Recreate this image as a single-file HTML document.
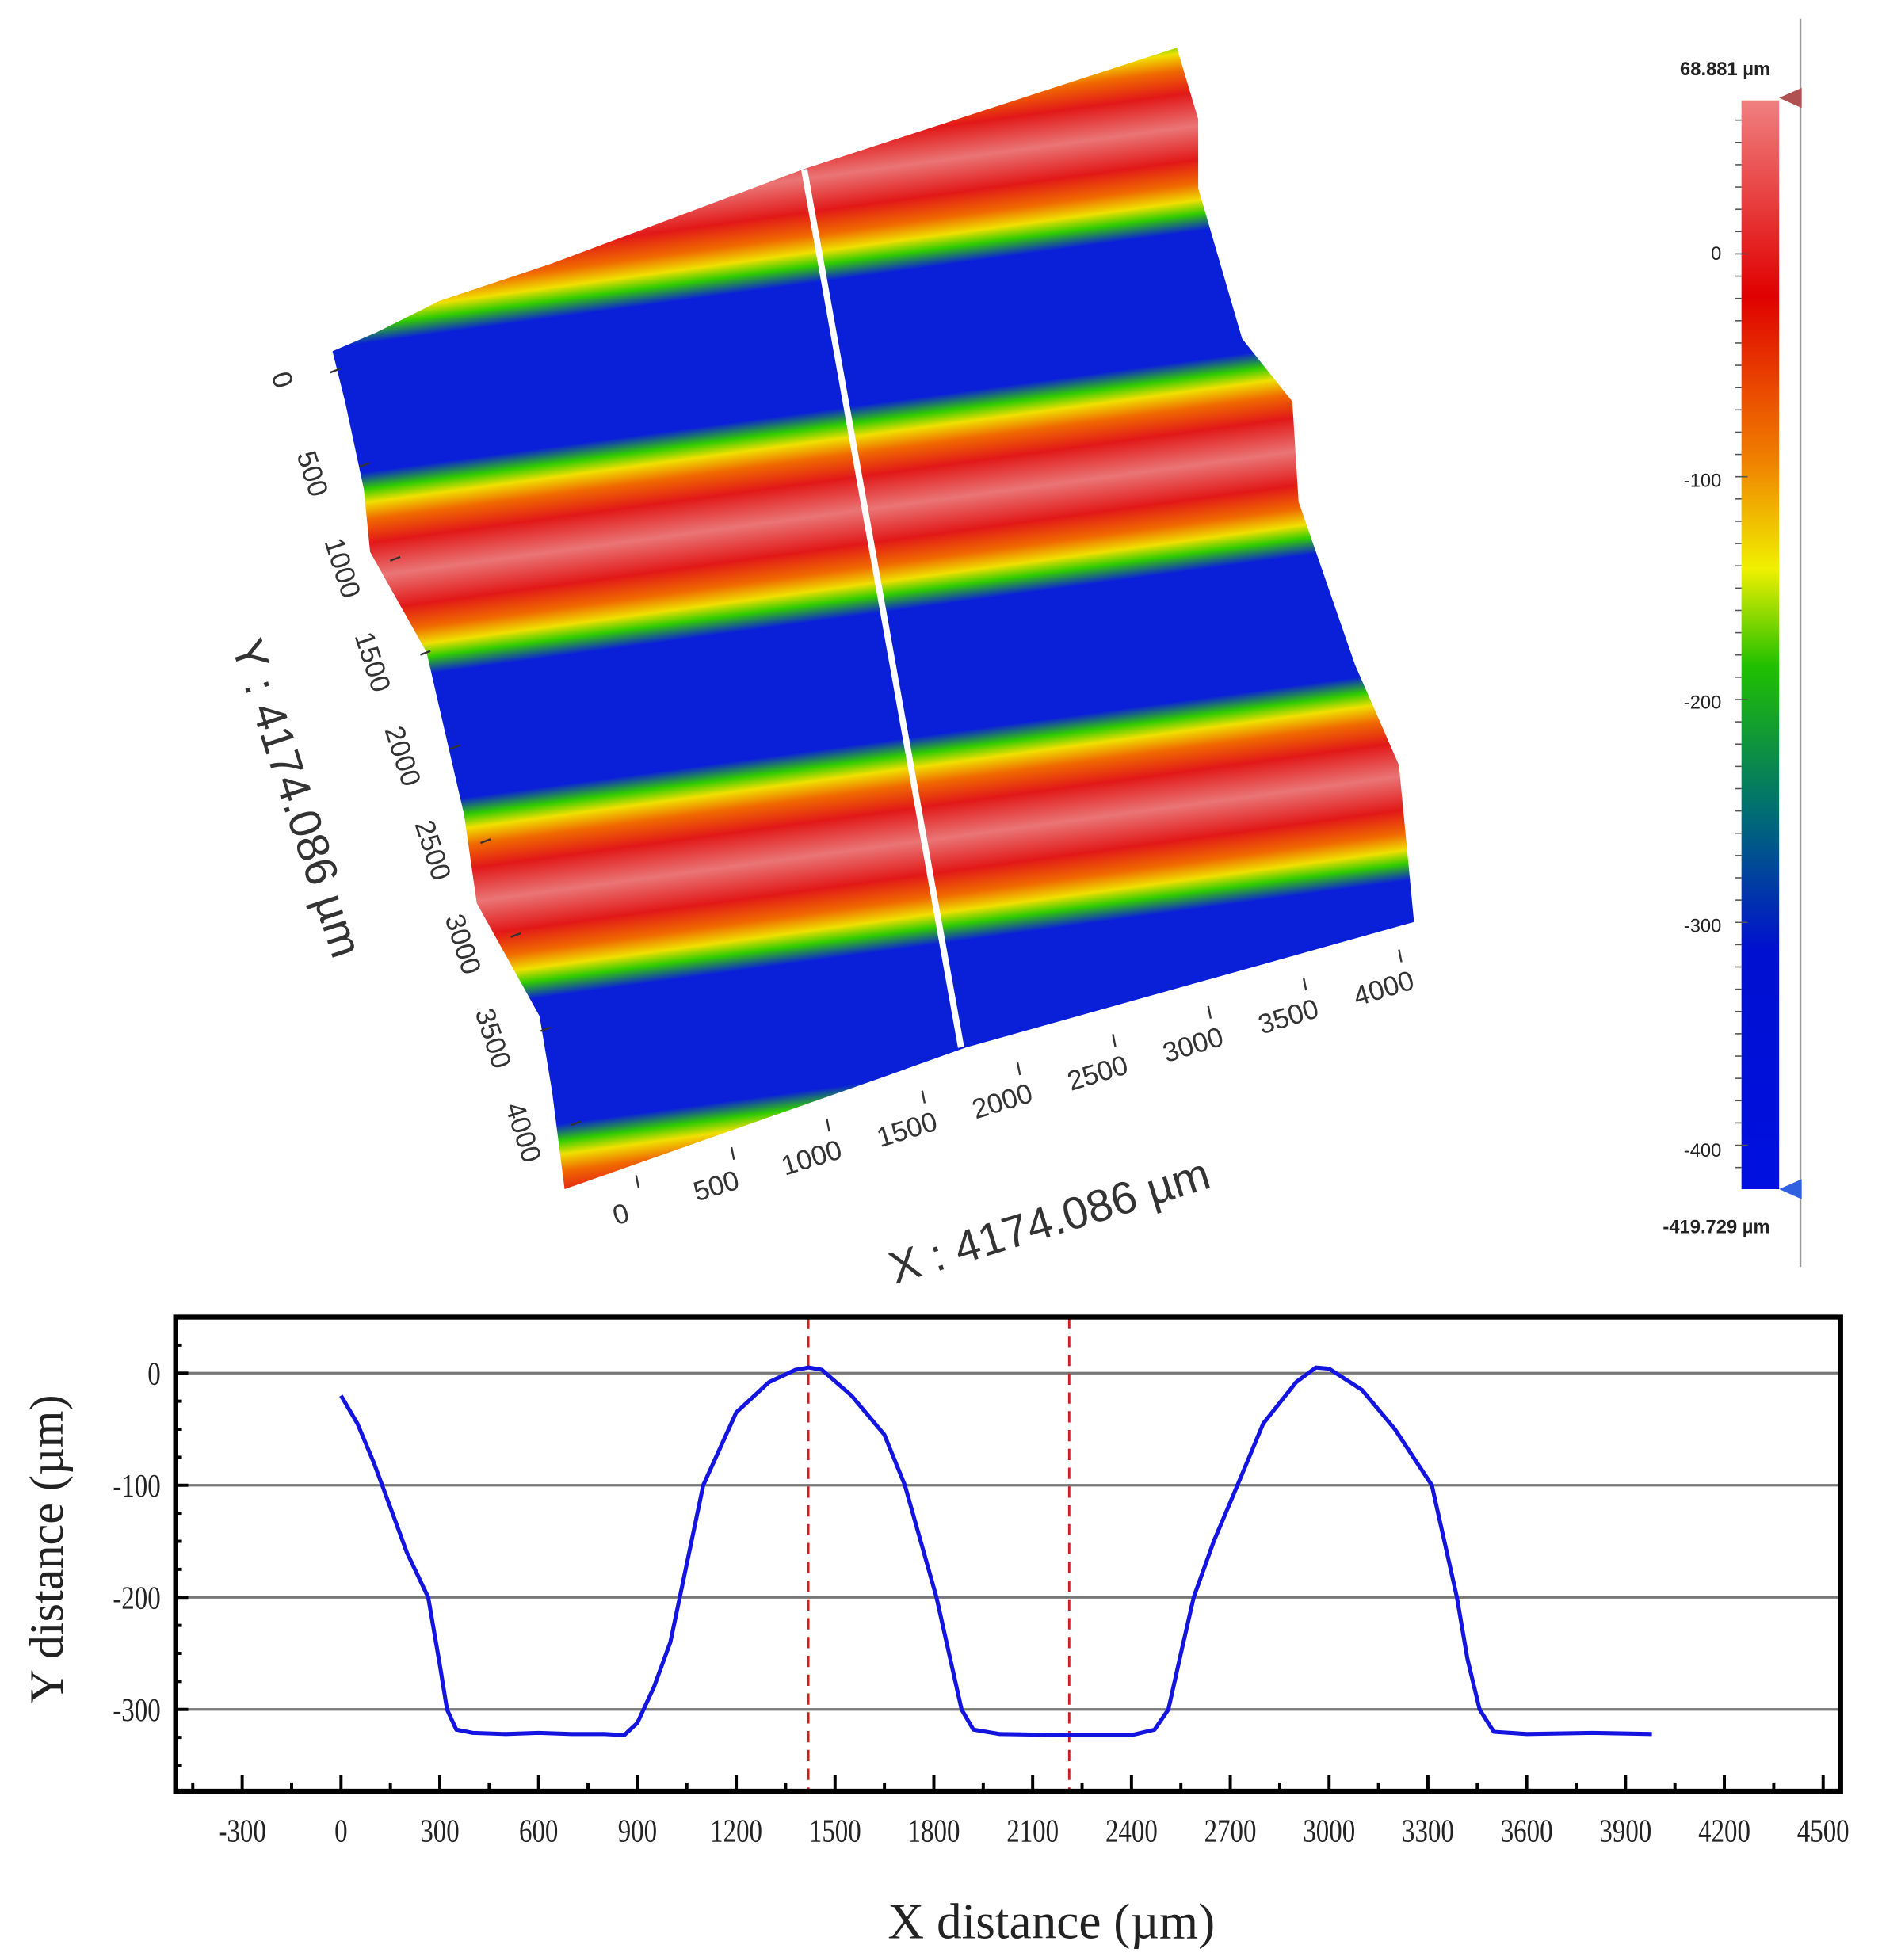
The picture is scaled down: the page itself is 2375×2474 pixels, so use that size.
<!DOCTYPE html>
<html><head><meta charset="utf-8"><style>
html,body{margin:0;padding:0;background:#fff}
svg{display:block}
</style></head><body>
<svg id="root" xmlns="http://www.w3.org/2000/svg" width="2375" height="2474" viewBox="0 0 1500 1562.5">
<defs>
  <linearGradient id="bandGrad" gradientUnits="userSpaceOnUse" x1="0" y1="-125" x2="0" y2="265" spreadMethod="repeat">
    <stop offset="0" stop-color="#ea7575"/>
    <stop offset="0.1" stop-color="#e21818"/>
    <stop offset="0.17" stop-color="#f06a00"/>
    <stop offset="0.22" stop-color="#f0e000"/>
    <stop offset="0.26" stop-color="#30cc00"/>
    <stop offset="0.31" stop-color="#0a20d8"/>
    <stop offset="0.69" stop-color="#0a20d8"/>
    <stop offset="0.74" stop-color="#30cc00"/>
    <stop offset="0.78" stop-color="#f0e000"/>
    <stop offset="0.83" stop-color="#f06a00"/>
    <stop offset="0.9" stop-color="#e21818"/>
    <stop offset="1" stop-color="#ea7575"/>
  </linearGradient>
  <clipPath id="surfClip">
    <polygon points="265,280 300,265 350,240 440,210 640,135 938,38 955,95 955,150 990,270 1030,320 1035,400 1080,530 1115,610 1127,735 770,835 700,860 450,948 440,870 430,810 380,720 370,650 340,520 295,440 290,390 275,320"/>
  </clipPath>
  <linearGradient id="cbarGrad" x1="0" y1="0" x2="0" y2="1">
    <stop offset="0" stop-color="#f08080"/>
    <stop offset="0.18" stop-color="#e00000"/>
    <stop offset="0.33" stop-color="#f08000"/>
    <stop offset="0.43" stop-color="#f0f000"/>
    <stop offset="0.52" stop-color="#20c000"/>
    <stop offset="0.65" stop-color="#007070"/>
    <stop offset="0.78" stop-color="#0010d0"/>
    <stop offset="1" stop-color="#0010e0"/>
  </linearGradient>
</defs>

<g clip-path="url(#surfClip)">
  <g transform="matrix(0.74,-0.1,0.185,0.668,265,280)">
    <rect x="-400" y="-600" width="1800" height="2200" fill="url(#bandGrad)"/>
  </g>
</g>
<line x1="641" y1="135" x2="766" y2="835" stroke="#fff" stroke-width="5"/>

<g font-family="Liberation Sans, sans-serif" font-size="22" fill="#333">
  <g id="y3dTicks"></g>
  <text transform="translate(225,640) rotate(72)" text-anchor="middle" font-size="36">Y : 4174.086 µm</text>
</g>
<g font-family="Liberation Sans, sans-serif" font-size="22" fill="#333">
  <g id="x3dTicks"></g>
  <text transform="translate(840,985) rotate(-17)" text-anchor="middle" font-size="36">X : 4174.086 µm</text>
</g>

<g font-family="Liberation Sans, sans-serif" font-size="15" fill="#222">
  <line x1="1435" y1="15" x2="1435" y2="1010" stroke="#999" stroke-width="1.5"/>
  <rect x="1388" y="80" width="30" height="868" fill="url(#cbarGrad)"/>
  <polygon points="1418,78 1436,70 1436,86" fill="#b05050"/>
  <polygon points="1418,948 1436,940 1436,956" fill="#3060e0"/>
  <text x="1375" y="60" text-anchor="middle" font-weight="bold">68.881 µm</text>
  <text x="1372" y="207" text-anchor="end">0</text>
  <text x="1372" y="388" text-anchor="end">-100</text>
  <text x="1372" y="565" text-anchor="end">-200</text>
  <text x="1372" y="743" text-anchor="end">-300</text>
  <text x="1372" y="922" text-anchor="end">-400</text>
  <text x="1368" y="983" text-anchor="middle" font-weight="bold">-419.729 µm</text>
  <g id="cbarTicks" stroke="#555" stroke-width="1"></g>
</g>

<g id="chart" font-family="Liberation Serif, serif" fill="#222">
  <g id="grid"></g>
  <g id="refLines"></g>
  <path id="profileLine" fill="none" stroke="#1414e0" stroke-width="3.2" stroke-linejoin="round"/>
  <rect x="140" y="1050" width="1327" height="378" fill="none" stroke="#000" stroke-width="4"/>
  <g id="xTicks"></g>
  <g id="yTicks"></g>
  <text transform="translate(50,1235) rotate(-90)" text-anchor="middle" font-size="38">Y distance (µm)</text>
  <text x="838" y="1545" text-anchor="middle" font-size="40">X distance (µm)</text>
</g>

<script>
const profileX = [0,50,100,150,200,265,300,322,350,400,500,600,700,800,860,900,950,1000,1050,1100,1200,1300,1380,1420,1460,1550,1650,1712,1760,1808,1850,1884,1920,2000,2200,2400,2470,2512,2550,2589,2650,2722,2800,2900,2960,3000,3100,3200,3312,3350,3388,3420,3457,3500,3600,3800,3980];
const profileY = [-20,-45,-80,-120,-160,-200,-260,-300,-318,-321,-322,-321,-322,-322,-323,-312,-280,-240,-170,-100,-35,-8,3,5,3,-20,-55,-100,-150,-200,-255,-300,-318,-322,-323,-323,-318,-300,-250,-200,-150,-100,-45,-8,5,4,-15,-50,-100,-150,-200,-255,-300,-320,-322,-321,-322];
const refLineX = [1419, 2211];
const xTickVals = [-300,0,300,600,900,1200,1500,1800,2100,2400,2700,3000,3300,3600,3900,4200,4500];
const yTickVals = [0,-100,-200,-300];
const y3dLabels = ["0","500","1000","1500","2000","2500","3000","3500","4000"];
const x3dLabels = ["0","500","1000","1500","2000","2500","3000","3500","4000"];

const NS = "http://www.w3.org/2000/svg";
const X0=140, X1=1467, Y0=1050, Y1=1428, XMIN=-502, XMAX=4553, YMAX=50, YMIN=-373;
function sx(v){return X0+(v-XMIN)/(XMAX-XMIN)*(X1-X0);}
function sy(v){return Y0+(YMAX-v)/(YMAX-YMIN)*(Y1-Y0);}
function mk(tag, attrs, parent){const e=document.createElementNS(NS,tag);for(const k in attrs)e.setAttribute(k,attrs[k]);parent.appendChild(e);return e;}

const grid=document.getElementById('grid');
yTickVals.forEach(v=>{
  const l=mk('line',{x1:X0,x2:X1,y1:sy(v),y2:sy(v),stroke:'#777','stroke-width':2},grid);
  
  
});
const ref=document.getElementById('refLines');
refLineX.forEach(v=>{
  const l=mk('line',{x1:sx(v),x2:sx(v),y1:Y0,y2:Y1,stroke:'#cc2020','stroke-width':1.8,'stroke-dasharray':'9,6'},ref);
  
  
});
let d='';
profileX.forEach((x,i)=>{d+=(i?'L':'M')+sx(x).toFixed(1)+','+sy(profileY[i]).toFixed(1);});
document.getElementById('profileLine').setAttribute('d',d);

const xt=document.getElementById('xTicks');
for(let v=-450; v<=4500; v+=150){
  const major = (v%300===0);
  mk('line',{x1:sx(v),x2:sx(v),y1:Y1,y2:Y1-(major?13:7),stroke:'#000','stroke-width':2.5},xt);
}
xTickVals.forEach(v=>{
  const t=mk('text',{x:0,y:0,'text-anchor':'middle','font-size':26,transform:`translate(${sx(v)},1468) scale(0.8,1)`},xt);
  t.textContent=v;
  
  
});
const yt=document.getElementById('yTicks');
for(let v=50; v>=-350; v-=25){
  const major=(v%100===0);
  mk('line',{x1:X0,x2:X0+(major?10:5),y1:sy(v),y2:sy(v),stroke:'#000','stroke-width':2.5},yt);
}
yTickVals.forEach(v=>{
  const t=mk('text',{x:0,y:0,'text-anchor':'end','font-size':26,transform:`translate(128,${sy(v)+9}) scale(0.8,1)`},yt);
  t.textContent=v;
  
  
});

const y3=document.getElementById('y3dTicks');
y3dLabels.forEach((s,i)=>{
  const f=i/8;
  const tx=218+f*(410-218), ty=305+f*(905-305);
  const t=mk('text',{transform:`translate(${tx},${ty}) rotate(72)`,'text-anchor':'middle'},y3);
  t.textContent=s;
  
  
  mk('line',{x1:tx+45,y1:ty-8,x2:tx+53,y2:ty-11,stroke:'#333','stroke-width':1.5},y3);
});
const x3=document.getElementById('x3dTicks');
x3dLabels.forEach((s,i)=>{
  const f=i/8;
  const tx=497+f*(1105-497), ty=975+f*(795-975);
  const t=mk('text',{transform:`translate(${tx},${ty}) rotate(-17)`,'text-anchor':'middle'},x3);
  t.textContent=s;
  
  
  mk('line',{x1:tx+10,y1:ty-38,x2:tx+12,y2:ty-28,stroke:'#333','stroke-width':1.5},x3);
});
const cb=document.getElementById('cbarTicks');
function cy(v){return 80+(68.881-v)/(68.881+419.729)*868;}
for(let v=60; v>=-410; v-=10){
  mk('line',{x1:1383,x2:v%100===0?1393:1388,y1:cy(v),y2:cy(v)},cb);
}
</script>
</svg>
</body></html>
